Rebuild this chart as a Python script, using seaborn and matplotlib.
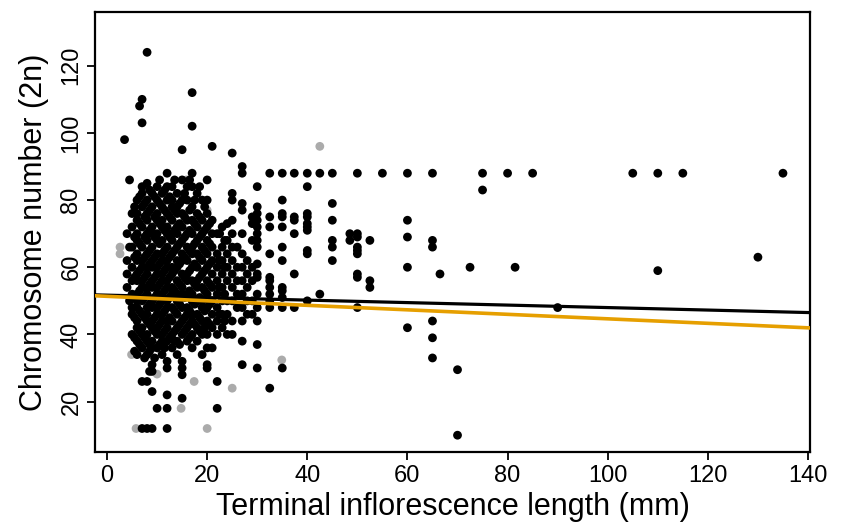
import matplotlib
matplotlib.use("Agg")
import matplotlib.pyplot as plt
import seaborn as sns
import pandas as pd

# ---- data ----
# black points, grouped by x column (mm) -> chromosome numbers
col_x = [3.5, 4, 4.5, 5, 6, 6.5, 7, 8, 9, 10, 11, 12, 13, 14, 15, 16, 17, 18, 19, 20,
         21, 22, 23, 24, 25, 26, 27, 28, 29, 30, 32.5, 35, 37.4, 40, 42.5, 45, 48.5,
         50, 52.5, 55, 60, 65, 66.5, 70, 72.5, 75, 80, 81.5, 85, 90, 105, 110, 115,
         130, 135]
col_y = [
    [98],
    [70, 62, 58, 54],
    [86, 66, 50],
    [76, 72, 66, 60, 56, 52, 48, 46, 40],
    [80, 76, 74, 70, 68, 64, 62, 58, 56, 52, 50, 48, 44, 42, 38, 34],
    [108],
    [110, 103, 84, 82, 78, 72, 66, 62, 60, 56, 54, 50, 46, 42, 40, 36, 26, 12],
    [124, 85, 80, 76, 74, 70, 68, 64, 60, 58, 54, 52, 48, 46, 44, 40, 38, 34, 26, 12],
    [82, 78, 72, 70, 66, 62, 60, 56, 54, 50, 48, 44, 42, 38, 36, 31, 29, 23, 12],
    [84, 80, 76, 74, 70, 68, 64, 60, 58, 54, 52, 48, 46, 42, 40, 36, 18],
    [82, 78, 74, 72, 68, 64, 62, 58, 56, 52, 50, 46, 44, 40, 38, 34],
    [88, 84, 80, 76, 72, 70, 66, 62, 60, 56, 54, 50, 48, 44, 42, 38, 32, 30, 22, 18, 12],
    [84, 80, 78, 74, 70, 68, 64, 60, 58, 54, 52, 48, 44, 40, 36],
    [82, 78, 76, 72, 70, 66, 62, 60, 56, 52, 50, 46, 42, 38, 34],
    [95, 86, 80, 76, 72, 68, 64, 62, 58, 54, 52, 48, 44, 40, 32, 30, 28, 21],
    [84, 80, 74, 70, 66, 62, 58, 56, 52, 48, 46, 42, 38],
    [112, 102, 88, 84, 78, 74, 70, 66, 64, 60, 56, 52, 50, 46, 44, 40, 36],
    [82, 76, 72, 68, 64, 60, 56, 54, 50, 46, 42, 38],
    [80, 74, 70, 66, 62, 58, 54, 50, 48, 44, 40, 34],
    [86, 80, 76, 72, 68, 64, 60, 56, 52, 48, 44, 40, 36, 31, 30],
    [96, 74, 70, 66, 62, 58, 54, 50, 46, 42, 36],
    [70, 64, 60, 56, 52, 48, 44, 40, 26, 18],
    [72, 66, 62, 58, 54, 50, 46, 42],
    [73, 68, 64, 60, 56, 50, 46, 40],
    [94, 82, 80, 74, 70, 66, 62, 58, 54, 50, 44, 40],
    [66, 60, 56, 52, 48],
    [90, 88, 79, 77, 70, 64, 60, 56, 52, 48, 44, 38, 31],
    [62, 58, 54, 50, 46],
    [75, 73, 68, 60, 56, 50, 46],
    [84, 78, 76, 74, 72, 70, 68, 66, 61, 58, 57, 52, 48, 44, 37, 30],
    [88, 75, 72, 64, 57, 56, 54, 52, 50, 48, 24],
    [88, 80, 76, 75, 72, 66, 62, 54, 53, 51, 48, 30],
    [88, 75, 74, 70, 58, 48],
    [88, 84, 76, 75, 73, 72, 71, 65, 64, 50],
    [88, 52],
    [88, 79, 74, 68, 66, 62],
    [70, 68],
    [88, 70, 69, 66, 65, 64, 58, 57, 48],
    [68, 56, 54],
    [88],
    [88, 74, 69, 60, 42],
    [88, 68, 66, 44, 39, 33],
    [58],
    [29.5, 10],
    [60],
    [88, 83],
    [88],
    [60],
    [88],
    [48],
    [88],
    [88, 59],
    [88],
    [63],
    [88],
]
# extra black points in the dense cluster (half-mm columns)
mid_x = [5.5, 6.5, 7.5, 8.5, 9.5, 10.5, 11.5, 12.5, 13.5, 14.5, 15.5, 16.5, 17.5,
         18.5, 19.5, 20.5, 22.5, 23.5]
mid_y = [
    [78, 69, 63, 57, 51, 45, 39, 35],
    [81, 73, 67, 59, 53, 47, 41, 37],
    [79, 75, 69, 63, 57, 51, 45, 39, 33],
    [83, 77, 71, 65, 61, 55, 49, 43, 37, 35, 29],
    [81, 75, 69, 63, 57, 51, 45, 41, 33],
    [86, 79, 73, 67, 61, 55, 49, 43, 37],
    [83, 77, 71, 65, 59, 53, 47, 41, 36],
    [81, 75, 69, 63, 57, 51, 45, 39],
    [86, 77, 71, 65, 59, 53, 47, 41, 38],
    [79, 73, 67, 61, 55, 49, 43, 37],
    [82, 75, 69, 63, 57, 51, 45, 41],
    [86, 77, 71, 65, 59, 53, 47, 43, 39],
    [80, 73, 67, 61, 55, 49, 43],
    [84, 75, 69, 63, 57, 51, 45, 41],
    [78, 71, 65, 59, 53, 47, 42],
    [73, 67, 61, 55, 49, 43],
    [70, 62, 54, 46],
    [68, 60, 52, 44],
]
# grey points
gray_x = [2.6, 2.6, 6.9, 4.9, 10.9, 10.0, 17.4, 25.0, 5.8, 20.0, 14.8, 42.5, 15.9, 20.0, 34.9, 25.1]
gray_y = [66, 64, 36.4, 34, 35, 28.2, 26, 24, 12, 12, 18, 96, 86, 77, 32.4, 54]

# regression lines (intercept, slope)
line_names = ["all", "phylo"]
line_intercepts = [51.7, 51.35]
line_slopes = [-0.037, -0.067]
line_colors = ["black", "#E69F00"]

x_ticks = [0, 20, 40, 60, 80, 100, 120, 140]
y_ticks = [20, 40, 60, 80, 100, 120]

# ---- build tables ----
bx, by = [], []
for xs, yss in ((col_x, col_y), (mid_x, mid_y)):
    for x, ys in zip(xs, yss):
        for y in ys:
            bx.append(x)
            by.append(y)
df = pd.DataFrame({
    "x": gray_x + bx,
    "y": gray_y + by,
    "grp": ["gray"] * len(gray_x) + ["black"] * len(bx),
})

sns.set_theme(style="white")
plt.rcParams["font.family"] = ["Liberation Sans", "DejaVu Sans"]
plt.rcParams["text.color"] = "black"
plt.rcParams["axes.labelcolor"] = "black"
plt.rcParams["xtick.color"] = "black"
plt.rcParams["ytick.color"] = "black"

fig = plt.figure(figsize=(8.43, 5.31), dpi=100)
ax = fig.add_axes([95 / 843, 1 - 452 / 531, (810 - 95) / 843, (452 - 12) / 531])

sns.scatterplot(data=df, x="x", y="y", hue="grp",
                palette={"gray": "#ABABAB", "black": "black"},
                s=40, edgecolor="none", linewidth=0, legend=False, ax=ax, zorder=2)

for name, b0, b1, c in zip(line_names, line_intercepts, line_slopes, line_colors):
    ax.axline((0, b0), slope=b1, color=c, lw=2.6 if c != "black" else 2.3, zorder=3)

ax.set_xlim(-2.4, 140.4)
ax.set_ylim(5, 136)
ax.set_xticks(x_ticks)
ax.set_yticks(y_ticks)
ax.set_xlabel("Terminal inflorescence length (mm)", fontsize=22, labelpad=4)
ax.set_ylabel("Chromosome number (2n)", fontsize=22, labelpad=8)
ax.tick_params(axis="both", direction="out", length=6, width=1.3, color="black",
               labelcolor="black", labelsize=17, left=True, bottom=True, pad=3)
for lab in ax.get_yticklabels():
    lab.set_rotation(90)
    lab.set_va("center")
for sp in ax.spines.values():
    sp.set_color("black")
    sp.set_linewidth(1.6)

fig.savefig("out.png", dpi=100, facecolor="white")
